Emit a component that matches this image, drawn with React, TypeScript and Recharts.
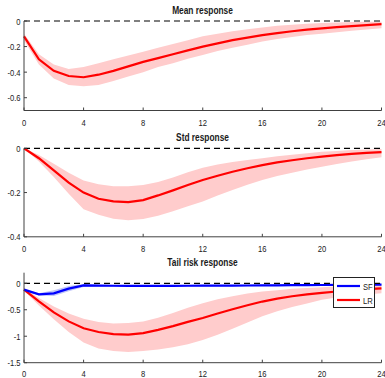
import React from "react";
import {
  Area,
  ComposedChart,
  Legend,
  Line,
  ReferenceLine,
  XAxis,
  YAxis,
} from "recharts";

// horizon (months)
const HORIZON = [0, 1, 2, 3, 4, 5, 6, 7, 8, 9, 10, 11, 12, 13, 14, 15, 16, 17, 18, 19, 20, 21, 22, 23, 24];
const X_TICKS = [0, 4, 8, 12, 16, 20, 24];

// Mean response
const MEAN_IRF = [-0.12, -0.3, -0.39, -0.43, -0.44, -0.42, -0.39, -0.355, -0.32, -0.29, -0.26, -0.23, -0.2, -0.175, -0.15, -0.13, -0.11, -0.095, -0.08, -0.068, -0.058, -0.048, -0.04, -0.032, -0.025];
const MEAN_LO = [-0.15, -0.34, -0.45, -0.5, -0.51, -0.5, -0.47, -0.435, -0.4, -0.36, -0.33, -0.295, -0.265, -0.235, -0.21, -0.185, -0.16, -0.14, -0.125, -0.11, -0.1, -0.088, -0.077, -0.067, -0.057];
const MEAN_HI = [-0.1, -0.26, -0.34, -0.375, -0.36, -0.33, -0.3, -0.27, -0.24, -0.21, -0.18, -0.15, -0.12, -0.1, -0.08, -0.065, -0.05, -0.038, -0.029, -0.021, -0.015, -0.011, -0.008, -0.006, -0.005];
const MEAN_TICKS = [-0.6, -0.4, -0.2, 0];

// Std response
const STD_IRF = [0, -0.045, -0.1, -0.155, -0.2, -0.228, -0.24, -0.243, -0.234, -0.213, -0.19, -0.166, -0.143, -0.124, -0.106, -0.09, -0.076, -0.064, -0.054, -0.045, -0.038, -0.031, -0.025, -0.021, -0.017];
const STD_LO = [0, -0.06, -0.13, -0.205, -0.275, -0.3, -0.318, -0.325, -0.32, -0.305, -0.285, -0.262, -0.24, -0.213, -0.188, -0.165, -0.143, -0.125, -0.11, -0.096, -0.083, -0.071, -0.06, -0.05, -0.04];
const STD_HI = [0, -0.03, -0.07, -0.11, -0.145, -0.163, -0.172, -0.172, -0.166, -0.152, -0.132, -0.108, -0.088, -0.073, -0.062, -0.053, -0.045, -0.036, -0.029, -0.022, -0.016, -0.012, -0.008, -0.005, -0.003];
const STD_TICKS = [-0.4, -0.2, 0];

// Tail risk response
const SF_IRF = [-0.12, -0.21, -0.19, -0.1, -0.04, -0.045, -0.047, -0.048, -0.048, -0.048, -0.048, -0.047, -0.046, -0.045, -0.044, -0.042, -0.04, -0.038, -0.036, -0.034, -0.032, -0.03, -0.028, -0.026, -0.024];
const SF_LO = [-0.13, -0.23, -0.24, -0.15, -0.07, -0.065, -0.064, -0.064, -0.063, -0.062, -0.061, -0.06, -0.059, -0.058, -0.057, -0.055, -0.053, -0.051, -0.049, -0.047, -0.045, -0.043, -0.041, -0.039, -0.037];
const SF_HI = [-0.11, -0.19, -0.13, -0.05, -0.015, -0.028, -0.031, -0.033, -0.034, -0.034, -0.034, -0.034, -0.033, -0.032, -0.031, -0.029, -0.027, -0.025, -0.023, -0.021, -0.019, -0.017, -0.015, -0.013, -0.011];
const LR_IRF = [-0.12, -0.34, -0.55, -0.72, -0.85, -0.92, -0.96, -0.97, -0.94, -0.88, -0.81, -0.73, -0.655, -0.57, -0.49, -0.415, -0.345, -0.29, -0.245, -0.21, -0.18, -0.155, -0.13, -0.11, -0.095];
const LR_LO = [-0.14, -0.42, -0.68, -0.92, -1.12, -1.23, -1.28, -1.3, -1.28, -1.25, -1.21, -1.15, -1.07, -0.97, -0.86, -0.74, -0.625, -0.53, -0.45, -0.38, -0.31, -0.27, -0.235, -0.21, -0.19];
const LR_HI = [-0.1, -0.28, -0.44, -0.57, -0.67, -0.73, -0.76, -0.75, -0.72, -0.65, -0.56, -0.46, -0.375, -0.3, -0.245, -0.195, -0.157, -0.13, -0.105, -0.088, -0.075, -0.062, -0.05, -0.04, -0.03];
const TAIL_TICKS = [-1.5, -1, -0.5, 0];

const LEGEND_ITEMS = [
  { name: "SF", color: "#0000ff" },
  { name: "LR", color: "#ff0000" },
];

const AXIS = "#404040";
const TEXT = "#1a1a1a";
const FONT = "'Liberation Sans', Arial, Helvetica, sans-serif";
const RED = "#ff0000";
const PINK = "#ffcccc";
const BLUE = "#0000ff";

function XTick({ x, y, payload, offset = 15.5 }: any) {
  return (
    <g>
      <line x1={x} x2={x} y1={y} y2={y - 3} stroke={AXIS} />
      <text
        transform={`translate(${x},${y + offset}) scale(0.8,1)`}
        textAnchor="middle"
        fontSize={9.5}
        fill={TEXT}
        fontFamily={FONT}
      >
        {payload.value}
      </text>
    </g>
  );
}

function YTick({ x, y, payload }: any) {
  return (
    <g>
      <line x1={x} x2={x + 3} y1={y} y2={y} stroke={AXIS} />
      <text
        transform={`translate(${x - 3.5},${y + 3.5}) scale(0.8,1)`}
        textAnchor="end"
        fontSize={9.5}
        fill={TEXT}
        fontFamily={FONT}
      >
        {payload.value}
      </text>
    </g>
  );
}

function TailLegend() {
  return (
    <div
      style={{
        width: 40,
        height: 29,
        border: "1px solid #222",
        background: "#fff",
        fontFamily: FONT,
        fontSize: 9,
        color: TEXT,
      }}
    >
      {LEGEND_ITEMS.map((item, i) => (
        <svg key={item.name} width={40} height={14} style={{ display: "block", marginTop: i === 0 ? 1 : 0 }}>
          <line x1={3} x2={26} y1={7} y2={7} stroke={item.color} strokeWidth={2.2} />
          <text transform="translate(29,10.5) scale(0.8,1)" fontSize={9.5} fill={TEXT} fontFamily={FONT}>
            {item.name}
          </text>
        </svg>
      ))}
    </div>
  );
}

interface PanelProps {
  title: string;
  top: number;
  plotHeight: number;
  marginTop: number;
  domain: [number, number];
  yTicks: number[];
  data: any[];
  labelOffset?: number;
  legend?: boolean;
  children: React.ReactNode;
}

function Panel(props: PanelProps) {
  // x axis gets 19px so the tick labels below the axis are not clipped
  const height = props.marginTop + props.plotHeight + 19;
  return (
    <div style={{ position: "absolute", left: 0, top: props.top, width: 385, height }}>
      <ComposedChart
        width={385}
        height={height}
        data={props.data}
        margin={{ top: props.marginTop, right: 3.5, bottom: 0, left: 0 }}
      >
        <XAxis
          dataKey="h"
          type="number"
          domain={[0, 24]}
          ticks={X_TICKS}
          height={19}
          tickSize={0}
          tickMargin={0}
          tickLine={false}
          axisLine={{ stroke: AXIS }}
          tick={<XTick offset={props.labelOffset ?? 15.5} />}
          interval={0}
        />
        <YAxis
          type="number"
          domain={props.domain}
          ticks={props.yTicks}
          width={24}
          tickSize={0}
          tickMargin={0}
          tickLine={false}
          axisLine={{ stroke: AXIS }}
          tick={<YTick />}
          interval={0}
          allowDataOverflow
        />
        {props.children}
        <ReferenceLine y={0} stroke="#000" strokeWidth={1.2} strokeDasharray="6 4" />
        {props.legend && (
          <Legend
            layout="vertical"
            align="center"
            verticalAlign="middle"
            content={() => <TailLegend />}
            wrapperStyle={{ position: "absolute", left: 333, top: 26, width: 42, height: 31 }}
          />
        )}
      </ComposedChart>
      <svg
        width={385}
        height={props.marginTop}
        style={{ position: "absolute", left: 0, top: 0, pointerEvents: "none" }}
      >
        <text
          transform={`translate(202.5,${props.marginTop - 7}) scale(0.76,1)`}
          textAnchor="middle"
          fontSize={11}
          fontWeight="bold"
          fill={TEXT}
          fontFamily={FONT}
        >
          {props.title}
        </text>
      </svg>
    </div>
  );
}

export default function App() {
  const meanData = HORIZON.map((h, i) => ({ h, irf: MEAN_IRF[i], band: [MEAN_LO[i], MEAN_HI[i]] }));
  const stdData = HORIZON.map((h, i) => ({ h, irf: STD_IRF[i], band: [STD_LO[i], STD_HI[i]] }));
  const tailData = HORIZON.map((h, i) => ({
    h,
    sf: SF_IRF[i],
    lr: LR_IRF[i],
    sfBand: [SF_LO[i], SF_HI[i]],
    lrBand: [LR_LO[i], LR_HI[i]],
  }));

  return (
    <div
      style={{
        position: "absolute",
        left: 0,
        top: 0,
        width: 385,
        height: 378,
        overflow: "hidden",
        background: "#fff",
      }}
    >
      <Panel title="Mean response" top={0} plotHeight={89.5} marginTop={21} domain={[-0.7, 0]} yTicks={MEAN_TICKS} data={meanData}>
        <Area dataKey="band" stroke="none" fill={PINK} fillOpacity={1} isAnimationActive={false} />
        <Line dataKey="irf" stroke={RED} strokeWidth={2.2} dot={false} isAnimationActive={false} />
      </Panel>
      <Panel title="Std response" top={125} plotHeight={88.5} marginTop={23.3} domain={[-0.4, 0]} yTicks={STD_TICKS} data={stdData}>
        <Area dataKey="band" stroke="none" fill={PINK} fillOpacity={1} isAnimationActive={false} />
        <Line dataKey="irf" stroke={RED} strokeWidth={2.2} dot={false} isAnimationActive={false} />
      </Panel>
      <Panel
        title="Tail risk response"
        top={251}
        plotHeight={90}
        marginTop={21.7}
        domain={[-1.5, 0.2]}
        yTicks={TAIL_TICKS}
        data={tailData}
        labelOffset={14.3}
        legend
      >
        <Area dataKey="lrBand" stroke="none" fill={PINK} fillOpacity={1} isAnimationActive={false} />
        <Area dataKey="sfBand" stroke="none" fill="#a9b2f5" fillOpacity={0.75} isAnimationActive={false} />
        <Line dataKey="lr" stroke={RED} strokeWidth={2.2} dot={false} isAnimationActive={false} />
        <Line dataKey="sf" stroke={BLUE} strokeWidth={2.2} dot={false} isAnimationActive={false} />
      </Panel>
    </div>
  );
}
